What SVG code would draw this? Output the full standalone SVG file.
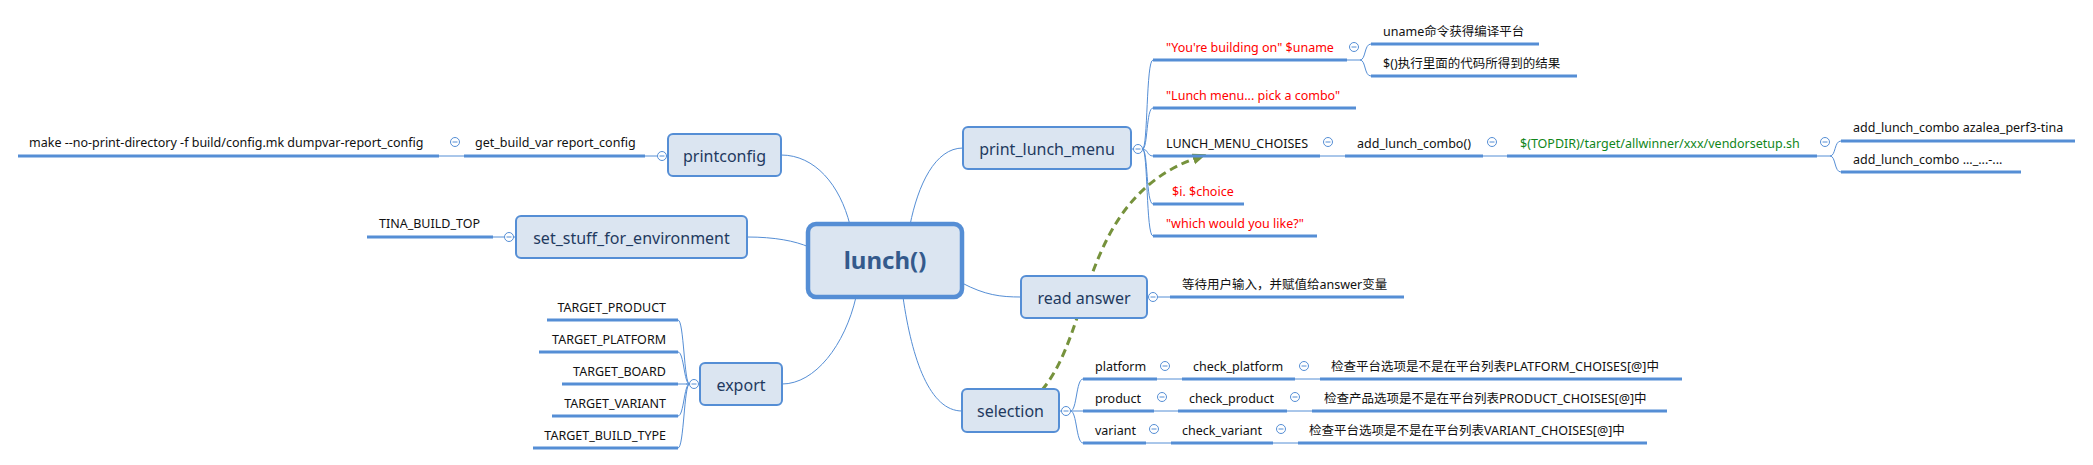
<svg xmlns="http://www.w3.org/2000/svg" xmlns:xlink="http://www.w3.org/1999/xlink" width="2093" height="465" viewBox="0 0 2093 465">
<style>
.box{fill:#dbe5f1;stroke:#558ed5;stroke-width:2}
.root{fill:#dbe5f1;stroke:#558ed5;stroke-width:4.5}
.bt{font-family:"Noto Sans","Open Sans",sans-serif;font-size:16px;fill:#1f3a60;text-anchor:middle}
.rt{font-family:"Noto Sans","Open Sans",sans-serif;font-size:24px;font-weight:bold;fill:#345a8c;text-anchor:middle}
.t{font-family:"Noto Sans","Noto Sans CJK SC",sans-serif;font-size:12.5px;fill:#111}
.red{fill:#ff0000}
.grn{fill:#11861a}
.ul{stroke:#558ed5;stroke-width:3;fill:none}
.ln{stroke:#558ed5;stroke-width:1;fill:none}
.col circle{fill:#fff;stroke:#558ed5;stroke-width:1}
.col line{stroke:#558ed5;stroke-width:1}
.dash{stroke:#76923c;stroke-width:3;fill:none;stroke-dasharray:8 5}
</style>
<defs>
<g id="c" class="col"><circle r="4.5"/><line x1="-2.5" y1="0" x2="2.5" y2="0"/></g>
<marker id="arr" markerUnits="userSpaceOnUse" markerWidth="16" markerHeight="12" refX="3" refY="5.5" orient="auto"><path d="M0,0 L14,5.5 L0,11 z" fill="#76923c"/></marker>
</defs>
<rect width="2093" height="465" fill="#fff"/>

<g id="connectors">
<path class="ln" d="M781,155 C815,155 840,185 850,225"/>
<path class="ln" d="M910,225 C918,185 935,148 963,148"/>
<path class="ln" d="M747,237 C775,237 795,241 809,247"/>
<path class="ln" d="M962,283 C985,295 1000,297 1021,297"/>
<path class="ln" d="M856,297 C845,345 815,384 782,384"/>
<path class="ln" d="M903,297 C912,360 930,411 962,411"/>
<!-- left thin -->
<path class="ln" d="M439,156 H464 M645,156 H657.5 M666.5,156 H668 M493,237 H504.5 M513.5,237 H516"/>
<!-- export bracket -->
<path class="ln" d="M700,384 H698.5 M689.5,384 H686"/>
<path class="ln" d="M689.5,384 C684,384 684,320 678,320 M689.5,384 C684,384 684,352 678,352 M689.5,384 H678 M689.5,384 C684,384 684,416 678,416 M689.5,384 C684,384 684,448 678,448"/>
<!-- print_lunch_menu bracket -->
<path class="ln" d="M1131,149 H1133.5"/>
<path class="ln" d="M1142.5,149 C1148,149 1146,60 1153,60 M1142.5,149 C1148,149 1146,108 1153,108 M1142.5,149 C1148,149 1147,156 1153,156 M1142.5,149 C1148,149 1146,204 1153,204 M1142.5,149 C1148,149 1146,236 1153,236"/>
<path class="ln" d="M1347,60 H1360 C1366,60 1364,44 1371,44 M1360,60 C1366,60 1364,76 1371,76"/>
<path class="ln" d="M1320,156 H1345 M1483,156 H1507 M1817,156 H1830 C1836,156 1834,141 1841,141 M1830,156 C1836,156 1834,172 1841,172"/>
<!-- read answer -->
<path class="ln" d="M1147,297 H1148.5 M1157.5,297 H1170"/>
<!-- selection -->
<path class="ln" d="M1059,411 H1061.5"/>
<path class="ln" d="M1070.5,411 C1077,411 1076,379 1083,379 M1070.5,411 H1083 M1070.5,411 C1077,411 1076,443 1083,443"/>
<path class="ln" d="M1157,379 H1182 M1295,379 H1320 M1154,411 H1178 M1287,411 H1312 M1146,443 H1171 M1273,443 H1298"/>
<!-- dashed relationship -->
<path class="dash" d="M1042,390 C1093,330 1080,200 1196,158" marker-end="url(#arr)"/>
</g>

<g id="n-lunch"><rect class="root" x="808" y="224" width="154" height="73" rx="8"/><text class="rt" x="885" y="269">lunch()</text></g>

<g id="n-printconfig"><rect class="box" x="668" y="134" width="113" height="42" rx="5"/><text class="bt" x="724.5" y="162">printconfig</text><use href="#c" x="662" y="156"/></g>
<g id="n-getbuildvar"><line class="ul" x1="464" y1="156" x2="645" y2="156"/><text class="t" x="475" y="147">get_build_var report_config</text><use href="#c" x="455" y="142"/></g>
<g id="n-make"><line class="ul" x1="18" y1="156" x2="439" y2="156"/><text class="t" x="29" y="147">make --no-print-directory -f build/config.mk dumpvar-report_config</text></g>

<g id="n-setstuff"><rect class="box" x="516" y="216" width="231" height="42" rx="5"/><text class="bt" x="631.5" y="244">set_stuff_for_environment</text><use href="#c" x="509" y="237"/></g>
<g id="n-tina"><line class="ul" x1="367" y1="237" x2="493" y2="237"/><text class="t" x="379" y="228">TINA_BUILD_TOP</text></g>

<g id="n-export"><rect class="box" x="700" y="363" width="82" height="42" rx="5"/><text class="bt" x="741" y="391">export</text><use href="#c" x="694" y="384"/></g>
<g id="n-tp"><line class="ul" x1="547" y1="320" x2="678" y2="320"/><text class="t" x="666" y="312" text-anchor="end">TARGET_PRODUCT</text></g>
<g id="n-tpl"><line class="ul" x1="539" y1="352" x2="678" y2="352"/><text class="t" x="666" y="344" text-anchor="end">TARGET_PLATFORM</text></g>
<g id="n-tb"><line class="ul" x1="562" y1="384" x2="678" y2="384"/><text class="t" x="666" y="376" text-anchor="end">TARGET_BOARD</text></g>
<g id="n-tv"><line class="ul" x1="552" y1="416" x2="678" y2="416"/><text class="t" x="666" y="408" text-anchor="end">TARGET_VARIANT</text></g>
<g id="n-tbt"><line class="ul" x1="533" y1="448" x2="678" y2="448"/><text class="t" x="666" y="440" text-anchor="end">TARGET_BUILD_TYPE</text></g>

<g id="n-plm"><rect class="box" x="963" y="127" width="168" height="42" rx="5"/><text class="bt" x="1047" y="155">print_lunch_menu</text><use href="#c" x="1138" y="149"/></g>
<g id="n-yb"><line class="ul" x1="1153" y1="60" x2="1347" y2="60"/><text class="t red" x="1166" y="52">"You're building on" $uname</text><use href="#c" x="1354" y="47"/></g>
<g id="n-uname"><line class="ul" x1="1371" y1="44" x2="1539" y2="44"/><text class="t" x="1383" y="36">uname命令获得编译平台</text></g>
<g id="n-exec"><line class="ul" x1="1371" y1="76" x2="1577" y2="76"/><text class="t" x="1383" y="68">$()执行里面的代码所得到的结果</text></g>
<g id="n-lm"><line class="ul" x1="1153" y1="108" x2="1356" y2="108"/><text class="t red" x="1166" y="100">"Lunch menu... pick a combo"</text></g>
<g id="n-lmc"><line class="ul" x1="1153" y1="156" x2="1320" y2="156"/><text class="t" x="1166" y="148">LUNCH_MENU_CHOISES</text><use href="#c" x="1328" y="142"/></g>
<g id="n-alc"><line class="ul" x1="1345" y1="156" x2="1483" y2="156"/><text class="t" x="1357" y="148">add_lunch_combo()</text><use href="#c" x="1492" y="142"/></g>
<g id="n-vs"><line class="ul" x1="1507" y1="156" x2="1817" y2="156"/><text class="t grn" x="1520" y="148">$(TOPDIR)/target/allwinner/xxx/vendorsetup.sh</text><use href="#c" x="1825" y="142"/></g>
<g id="n-az"><line class="ul" x1="1841" y1="141" x2="2075" y2="141"/><text class="t" x="1853" y="132">add_lunch_combo azalea_perf3-tina</text></g>
<g id="n-az2"><line class="ul" x1="1841" y1="172" x2="2021" y2="172"/><text class="t" x="1853" y="164">add_lunch_combo ..._...-...</text></g>
<g id="n-choice"><line class="ul" x1="1153" y1="204" x2="1244" y2="204"/><text class="t red" x="1172" y="196">$i. $choice</text></g>
<g id="n-which"><line class="ul" x1="1153" y1="236" x2="1317" y2="236"/><text class="t red" x="1166" y="228">"which would you like?"</text></g>

<g id="n-read"><rect class="box" x="1021" y="276" width="126" height="42" rx="5"/><text class="bt" x="1084" y="304">read answer</text><use href="#c" x="1153" y="297"/></g>
<g id="n-wait"><line class="ul" x1="1170" y1="297" x2="1404" y2="297"/><text class="t" x="1182" y="289">等待用户输入，并赋值给answer变量</text></g>

<g id="n-sel"><rect class="box" x="962" y="389" width="97" height="43" rx="5"/><text class="bt" x="1010.5" y="417">selection</text><use href="#c" x="1066" y="411"/></g>
<g id="n-pf"><line class="ul" x1="1083" y1="379" x2="1157" y2="379"/><text class="t" x="1095" y="371">platform</text><use href="#c" x="1165" y="366"/></g>
<g id="n-cpf"><line class="ul" x1="1182" y1="379" x2="1295" y2="379"/><text class="t" x="1193" y="371">check_platform</text><use href="#c" x="1304" y="366"/></g>
<g id="n-cpfd"><line class="ul" x1="1320" y1="379" x2="1682" y2="379"/><text class="t" x="1331" y="371">检查平台选项是不是在平台列表PLATFORM_CHOISES[@]中</text></g>
<g id="n-pd"><line class="ul" x1="1083" y1="411" x2="1154" y2="411"/><text class="t" x="1095" y="403">product</text><use href="#c" x="1162" y="397"/></g>
<g id="n-cpd"><line class="ul" x1="1178" y1="411" x2="1287" y2="411"/><text class="t" x="1189" y="403">check_product</text><use href="#c" x="1295" y="397"/></g>
<g id="n-cpdd"><line class="ul" x1="1312" y1="411" x2="1667" y2="411"/><text class="t" x="1324" y="403">检查产品选项是不是在平台列表PRODUCT_CHOISES[@]中</text></g>
<g id="n-vr"><line class="ul" x1="1083" y1="443" x2="1146" y2="443"/><text class="t" x="1095" y="435">variant</text><use href="#c" x="1154" y="429"/></g>
<g id="n-cvr"><line class="ul" x1="1171" y1="443" x2="1273" y2="443"/><text class="t" x="1182" y="435">check_variant</text><use href="#c" x="1281" y="429"/></g>
<g id="n-cvrd"><line class="ul" x1="1298" y1="443" x2="1647" y2="443"/><text class="t" x="1309" y="435">检查平台选项是不是在平台列表VARIANT_CHOISES[@]中</text></g>
</svg>
